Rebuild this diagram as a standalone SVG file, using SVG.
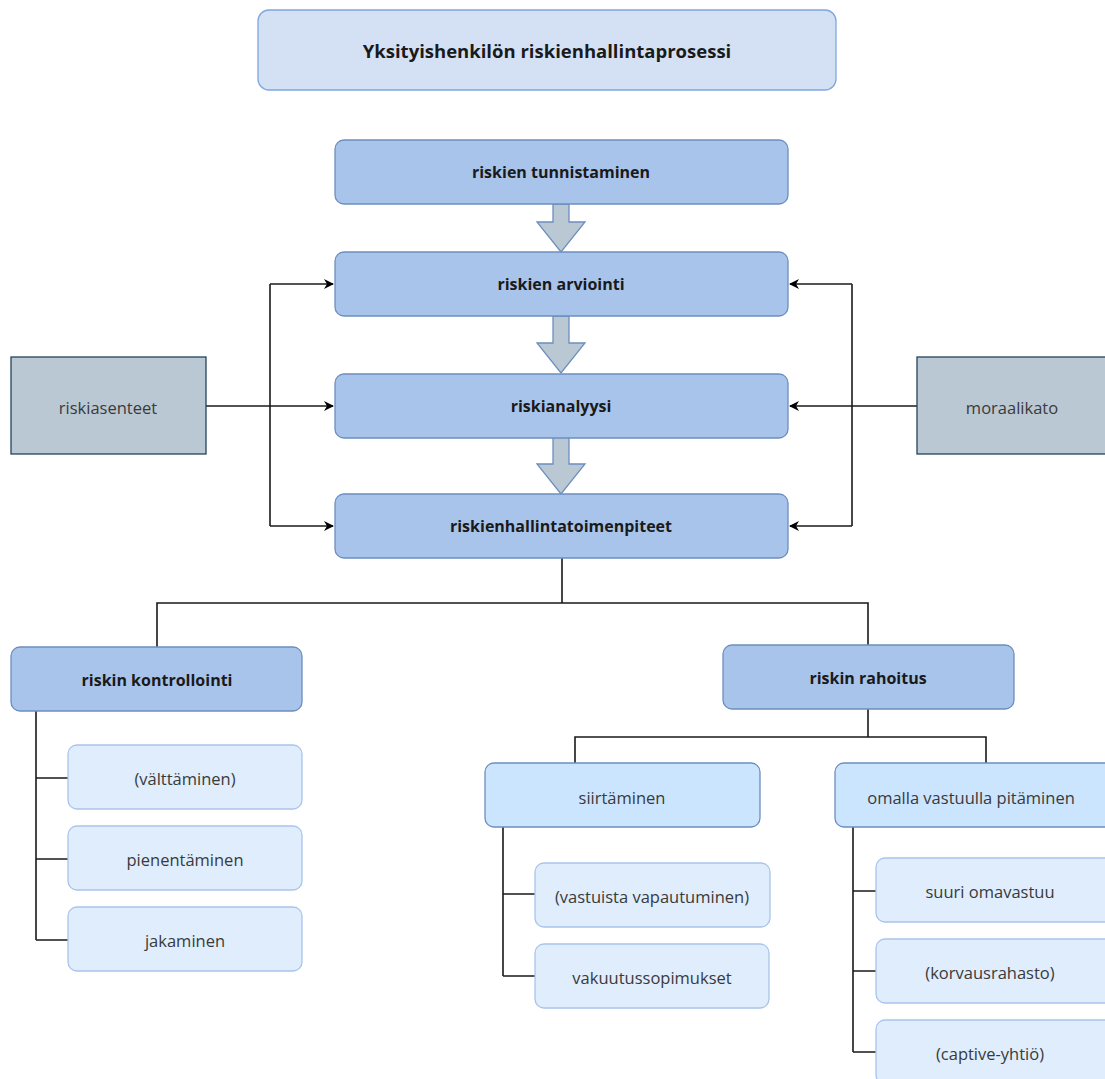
<svg xmlns="http://www.w3.org/2000/svg" width="1105" height="1079" viewBox="0 0 1105 1079">
  <defs>
    <style>
      text { font-family: "Open Sans", "Noto Sans", "Liberation Sans", sans-serif; text-anchor: middle; dominant-baseline: central; fill: #3a3a3a; font-size: 16.5px; }
      .b { font-weight: bold; fill: #1a1a1a; font-size: 16px; }
      .title rect { fill: #d4e1f5; stroke: #7ea6e0; stroke-width: 1.3; }
      .main rect { fill: #a9c4eb; stroke: #6c8ebf; stroke-width: 1.3; }
      .side rect { fill: #bac8d3; stroke: #23445d; stroke-width: 1.3; }
      .mid rect { fill: #cce5ff; stroke: #6c8ebf; stroke-width: 1.3; }
      .leaf rect { fill: #dfedfd; stroke: #a9c4eb; stroke-width: 1.3; }
      .wire { fill: none; stroke: #1a1a1a; stroke-width: 1.6; }
      .block { fill: #bac8d3; stroke: #6c8ebf; stroke-width: 1.3; }
    </style>
    <marker id="ah" viewBox="0 0 10 10" refX="9" refY="5" markerWidth="10" markerHeight="10" markerUnits="userSpaceOnUse" orient="auto">
      <path d="M0,0 L10,5 L0,10 L3,5 Z" fill="#000"/>
    </marker>
  </defs>

  <!-- connectors -->
  <g id="connectors">
    <!-- block arrows between process steps -->
    <path class="block" d="M553,204 H569 V222 H585 L561,252 L537,222 H553 Z"/>
    <path class="block" d="M553,316 H569 V343 H585 L561,373 L537,343 H553 Z"/>
    <path class="block" d="M553,437 H569 V464 H585 L561,494 L537,464 H553 Z"/>
    <!-- attitudes -->
    <path class="wire" d="M206,406 H333" marker-end="url(#ah)"/>
    <path class="wire" d="M270,284 V526"/>
    <path class="wire" d="M270,284 H333" marker-end="url(#ah)"/>
    <path class="wire" d="M270,526 H333" marker-end="url(#ah)"/>
    <!-- moral hazard -->
    <path class="wire" d="M917,406 H790" marker-end="url(#ah)"/>
    <path class="wire" d="M852,284 V526"/>
    <path class="wire" d="M852,284 H790" marker-end="url(#ah)"/>
    <path class="wire" d="M852,526 H790" marker-end="url(#ah)"/>
    <!-- tree -->
    <path class="wire" d="M562,558 V603 M157,647 V603 H868 V645"/>
    <path class="wire" d="M36,711 V940 M36,778 H68 M36,859 H68 M36,940 H68"/>
    <path class="wire" d="M868,709 V737 M575,763 V737 H986 V763"/>
    <path class="wire" d="M503,827 V976 M503,894 H535 M503,976 H535"/>
    <path class="wire" d="M853,827 V1052 M853,891 H876 M853,971 H876 M853,1052 H876"/>
  </g>

  <g id="title" class="title">
    <rect x="258" y="10" width="578" height="80" rx="11"/>
    <text class="b" x="547" y="50" style="font-size:18.5px">Yksityishenkilön riskienhallintaprosessi</text>
  </g>

  <g id="tunnistaminen" class="main">
    <rect x="335" y="140" width="453" height="64" rx="9"/>
    <text class="b" x="561" y="172">riskien tunnistaminen</text>
  </g>
  <g id="arviointi" class="main">
    <rect x="335" y="252" width="453" height="64" rx="9"/>
    <text class="b" x="561" y="284">riskien arviointi</text>
  </g>
  <g id="analyysi" class="main">
    <rect x="335" y="374" width="453" height="64" rx="9"/>
    <text class="b" x="561" y="406">riskianalyysi</text>
  </g>
  <g id="toimenpiteet" class="main">
    <rect x="335" y="494" width="453" height="64" rx="9"/>
    <text class="b" x="561" y="526">riskienhallintatoimenpiteet</text>
  </g>

  <g id="riskiasenteet" class="side">
    <rect x="11" y="357" width="195" height="97"/>
    <text x="108" y="407">riskiasenteet</text>
  </g>
  <g id="moraalikato" class="side">
    <rect x="917" y="357" width="195" height="97"/>
    <text x="1012" y="407">moraalikato</text>
  </g>

  <g id="kontrollointi" class="main">
    <rect x="11" y="647" width="291" height="64" rx="9"/>
    <text class="b" x="157" y="680">riskin kontrollointi</text>
  </g>
  <g id="rahoitus" class="main">
    <rect x="723" y="645" width="291" height="64" rx="9"/>
    <text class="b" x="868" y="678">riskin rahoitus</text>
  </g>

  <g id="valttaminen" class="leaf">
    <rect x="68" y="745" width="234" height="64" rx="9"/>
    <text x="185" y="778">(välttäminen)</text>
  </g>
  <g id="pienentaminen" class="leaf">
    <rect x="68" y="826" width="234" height="64" rx="9"/>
    <text x="185" y="859">pienentäminen</text>
  </g>
  <g id="jakaminen" class="leaf">
    <rect x="68" y="907" width="234" height="64" rx="9"/>
    <text x="185" y="940">jakaminen</text>
  </g>

  <g id="siirtaminen" class="mid">
    <rect x="485" y="763" width="275" height="64" rx="9"/>
    <text x="622" y="797">siirtäminen</text>
  </g>
  <g id="omalla" class="mid">
    <rect x="835" y="763" width="280" height="64" rx="9"/>
    <text x="971" y="797">omalla vastuulla pitäminen</text>
  </g>

  <g id="vastuista" class="leaf">
    <rect x="535" y="863" width="235" height="64" rx="9"/>
    <text x="652" y="896">(vastuista vapautuminen)</text>
  </g>
  <g id="vakuutussopimukset" class="leaf">
    <rect x="535" y="944" width="234" height="64" rx="9"/>
    <text x="652" y="977">vakuutussopimukset</text>
  </g>

  <g id="omavastuu" class="leaf">
    <rect x="876" y="858" width="240" height="64" rx="9"/>
    <text x="990" y="891">suuri omavastuu</text>
  </g>
  <g id="korvausrahasto" class="leaf">
    <rect x="876" y="939" width="240" height="64" rx="9"/>
    <text x="990" y="972">(korvausrahasto)</text>
  </g>
  <g id="captive" class="leaf">
    <rect x="876" y="1020" width="240" height="64" rx="9"/>
    <text x="990" y="1053">(captive-yhtiö)</text>
  </g>
</svg>
